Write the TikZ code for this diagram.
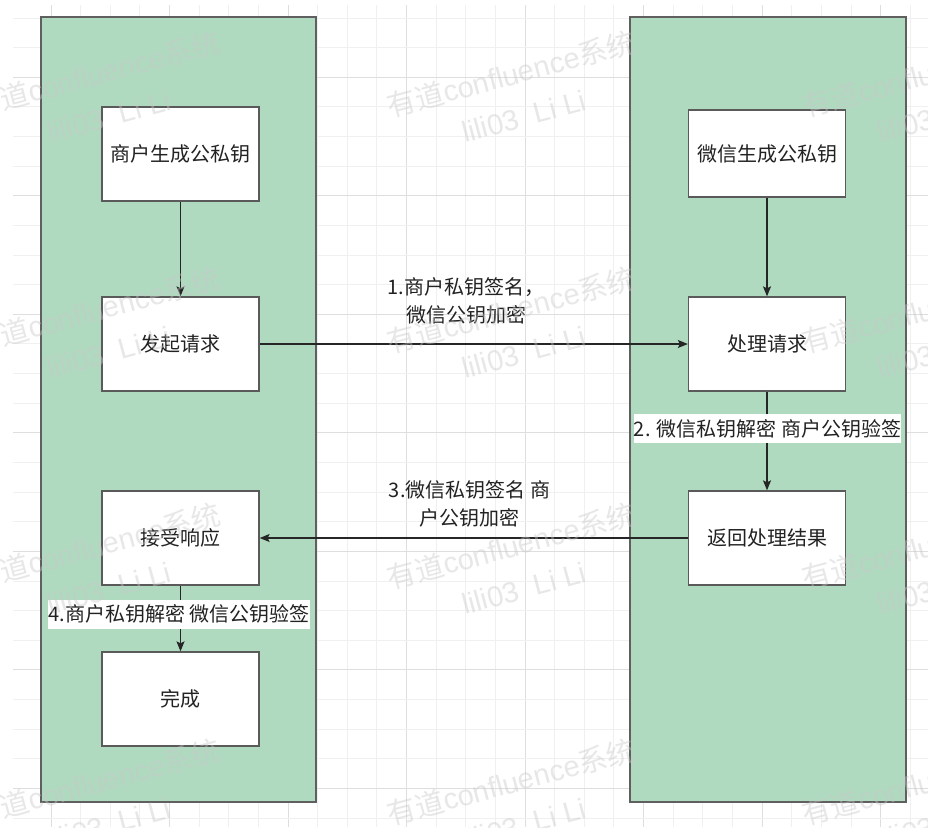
\documentclass[tikz,border=0pt]{standalone}
\usepackage{fontspec}
\setmainfont{Liberation Sans}
\newfontfamily\cjk{Noto Sans CJK SC}
\usetikzlibrary{arrows.meta}
\definecolor{lanegreen}{RGB}{176,218,192}
\definecolor{laneborder}{RGB}{95,95,95}
\definecolor{boxborder}{RGB}{90,90,90}
\definecolor{txt}{RGB}{34,34,34}
\definecolor{gridminor}{RGB}{240,240,240}
\definecolor{gridmajor}{RGB}{222,222,222}
\definecolor{wm}{RGB}{200,200,200}
\tikzset{
  lane/.style={draw=laneborder, line width=1.5pt, fill=lanegreen},
  stepbox/.style={draw=boxborder, line width=1.3pt, fill=white, minimum width=157pt, minimum height=94pt, inner sep=0pt, font=\cjk\fontsize{20pt}{24pt}\selectfont, text=txt},
  flow/.style={draw=black!85, line width=1.3pt, -{Stealth[length=10pt,width=8pt,inset=2pt]}},
  lbl/.style={font=\cjk\fontsize{20pt}{28pt}\selectfont, text=txt, align=center, inner sep=0pt},
  wlbl/.style={lbl, fill=white, minimum height=29pt, inner xsep=0pt},
  wmark/.style={text=wm, opacity=0.42, inner sep=0pt, anchor=base west, rotate=15, font=\fontsize{29pt}{30pt}\selectfont}
}
\begin{document}
\begin{tikzpicture}[x=1pt,y=-1pt]
\useasboundingbox (0,0) rectangle (928,827);
\fill[white] (0,0) rectangle (928,827);
% grid
\foreach \k in {0,...,29}{
  \pgfmathsetmacro\xx{51+29.63*\k}
  \pgfmathtruncatemacro\m{mod(\k,4)}
  \ifnum\m=0 \draw[gridmajor, line width=1pt] (\xx,5) -- (\xx,827);
  \else \draw[gridminor, line width=1pt] (\xx,5) -- (\xx,827); \fi
}
\foreach \k in {-2,...,25}{
  \pgfmathsetmacro\yy{77.3+29.63*\k}
  \pgfmathtruncatemacro\m{mod(\k+8,4)}
  \ifnum\m=0 \draw[gridmajor, line width=1pt] (13,\yy) -- (928,\yy);
  \else \draw[gridminor, line width=1pt] (13,\yy) -- (928,\yy); \fi
}
% lanes
\node[lane, minimum width=275pt, minimum height=785pt, inner sep=0pt] (laneL) at (178.5,409.5) {};
\node[lane, minimum width=276pt, minimum height=785pt, inner sep=0pt] (laneR) at (768,409.5) {};
% boxes
\node[stepbox] (b1) at (180.5,154) {商户生成公私钥};
\node[stepbox] (b2) at (180.5,344) {发起请求};
\node[stepbox] (b3) at (180.5,538) {接受响应};
\node[stepbox] (b4) at (180.5,699) {完成};
\node[stepbox, minimum height=87pt] (r1) at (767,153.5) {微信生成公私钥};
\node[stepbox] (r2) at (767,344) {处理请求};
\node[stepbox] (r3) at (767,538) {返回处理结果};
% connectors
\draw[flow] (b1) -- (b2);
\draw[flow] (r1) -- (r2);
\draw[flow] (b2) -- (r2);
\draw[flow] (r2) -- (r3);
\draw[flow] (r3) -- (b3);
\draw[flow] (b3) -- (b4);
% labels
\node[lbl] (l1) at (466,301) {1.商户私钥签名，\\微信公钥加密};
\node[wlbl] (l2) at (767.5,428.5) {2. 微信私钥解密 商户公钥验签};
\node[lbl] (l3) at (469.5,503.5) {3.微信私钥签名 商\\户公钥加密};
\node[wlbl] (l4) at (179,614) {4.商户私钥解密 微信公钥验签};
% watermark
\begin{scope}
\clip (0,0) rectangle (928,827);
\foreach \c in {-25,390,805}{
  \foreach \r in {118,354,590,826}{
    \node[wmark] at (\c,\r) {{\cjk 有道}confluence{\cjk 系统}};
    \node[wmark] at (\c+75,\r+25) {lili03\ \ Li Li};
  }
}
\end{scope}
\end{tikzpicture}
\end{document}
